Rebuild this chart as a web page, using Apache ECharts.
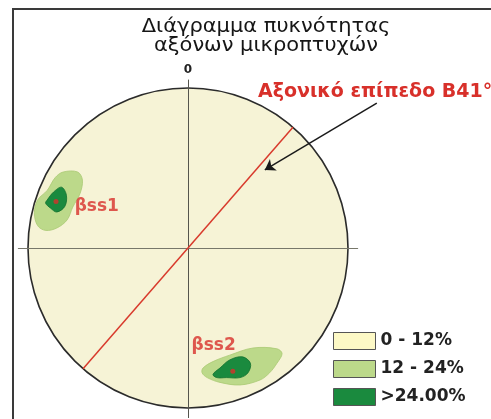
<!DOCTYPE html>
<html>
<head>
<meta charset="utf-8">
<script src="https://cdn.jsdelivr.net/npm/echarts@6/dist/echarts.min.js"></script>
<style>
  html, body { margin: 0; background: #fff; }
  #main { width: 491px; height: 419px; }
</style>
</head>
<body>
<div id="main"></div>
<script>
// stereonet points, in % of the primitive circle radius (x = east, y = north)
const levels = ['0 - 12%', '12 - 24%', '>24.00%'];
const levelColors = ['#fdf9c6', '#bcd98a', '#1a8a3e'];

// 12 - 24% contours (βss1, βss2)
const lowDensity = [
  [[-78, 47.5], [-69, 47.5], [-66, 42.5], [-67.5, 34], [-72, 25.6], [-75.6, 17.5], [-82, 12.5],
   [-89, 11], [-94, 14], [-96, 22], [-94, 30], [-88, 36], [-83, 44]],
  [[9.4, -75], [15.6, -71], [26, -67], [40.6, -62.5], [55.6, -63], [58.8, -66], [55.6, -72],
   [51, -78], [45, -82.5], [32.5, -85.6], [20, -84], [12, -81], [8.8, -78]]
];
// >24% contours
const highDensity = [
  [[-88, 30], [-84, 35], [-79, 38], [-76, 33], [-77, 26], [-82, 22.5], [-86, 25], [-89, 28]],
  [[15.6, -79], [20, -75], [26, -70], [34, -68], [39, -72], [37.5, -78], [32.5, -81], [24, -81], [18, -81]]
];
const maxima = [[-82.5, 29], [28, -77]];
const maximaNames = ['βss1', 'βss2'];
const maximaLabelPos = [[-57, 25.6], [16, -61]];
const axialPlane = [[-65.6, -75.5], [65.6, 75.5]];
const arrowLine = [[118, 90.6], [48, 48.8]];

const chart = echarts.init(document.getElementById('main'));

function contourSeries(name, polys, color, border) {
  return {
    name: name,
    type: 'custom',
    coordinateSystem: 'cartesian2d',
    data: polys.map((p, i) => [i, 0]),
    encode: { x: -1, y: -1 },
    z: 3,
    itemStyle: { color: color, borderColor: border, borderWidth: 0.8 },
    renderItem: function (params, api) {
      const pts = polys[params.dataIndex].map(p => api.coord(p));
      return {
        type: 'polygon',
        shape: { points: pts, smooth: 0.35 },
        style: { fill: color, stroke: border, lineWidth: 0.8 }
      };
    },
    silent: true
  };
}

const option = {
  animation: false,
  grid: { left: 18.4, top: 80, width: 339.2, height: 337.6 },
  xAxis: {
    type: 'value', min: -106, max: 106, z: 5,
    axisLine: { onZero: true, lineStyle: { color: '#77776a', width: 1.2 } },
    axisTick: { show: false }, axisLabel: { show: false }, splitLine: { show: false }
  },
  yAxis: {
    type: 'value', min: -106, max: 105, z: 5,
    name: '0', nameLocation: 'end', nameGap: 4,
    nameTextStyle: { fontFamily: 'DejaVu Sans', fontWeight: 'bold', fontSize: 12, color: '#222' },
    axisLine: { onZero: true, lineStyle: { color: '#55554d', width: 1 } },
    axisTick: { show: false }, axisLabel: { show: false }, splitLine: { show: false }
  },
  legend: {
    orient: 'vertical', left: 328, top: 327, padding: 5,
    itemWidth: 42, itemHeight: 17, itemGap: 10,
    icon: 'rect', selectedMode: false,
    textStyle: { fontFamily: 'DejaVu Sans', fontWeight: 'bold', fontSize: 17, color: '#222', lineHeight: 17 },
    data: levels.map((l, i) => ({
      name: l,
      itemStyle: { color: levelColors[i], borderColor: '#555', borderWidth: 1 }
    }))
  },
  series: [
    {
      name: levels[0],
      type: 'custom',
      coordinateSystem: 'cartesian2d',
      data: [[0, 0]],
      z: 2,
      itemStyle: { color: levelColors[0] },
      silent: true,
      renderItem: function (params, api) {
        const c = api.coord([0, 0]);
        const r = api.size([100, 0])[0];
        return {
          type: 'circle',
          shape: { cx: c[0], cy: c[1], r: r },
          style: { fill: '#f6f3d6', stroke: '#2b2b2b', lineWidth: 1.6 }
        };
      }
    },
    contourSeries(levels[1], lowDensity, levelColors[1], '#a9c973'),
    contourSeries(levels[2], highDensity, levelColors[2], '#11702f'),
    {
      type: 'line',
      data: axialPlane,
      symbol: 'none',
      z: 6,
      silent: true,
      lineStyle: { color: '#d83a2c', width: 1.5 }
    },
    {
      type: 'scatter',
      data: maxima,
      symbolSize: 5,
      z: 7,
      silent: true,
      itemStyle: { color: '#d8302a' }
    },
    {
      type: 'scatter',
      data: maximaLabelPos,
      symbolSize: 0,
      z: 7,
      silent: true,
      label: {
        show: true, position: 'inside',
        formatter: p => maximaNames[p.dataIndex],
        fontFamily: 'DejaVu Sans', fontWeight: 'bold', fontSize: 17, color: '#d8302a'
      }
    },
    {
      type: 'lines',
      coordinateSystem: 'cartesian2d',
      clip: false,
      z: 8,
      silent: true,
      symbol: ['none', 'arrow'],
      symbolSize: 10,
      lineStyle: { color: '#1a1a1a', width: 1.5, opacity: 1 },
      data: [{ coords: arrowLine }]
    }
  ],
  graphic: [
    {
      type: 'rect', z: 0, silent: true,
      shape: { x: 13, y: 9, width: 600, height: 600 },
      style: { fill: 'none', stroke: '#3a3a3a', lineWidth: 2 }
    },
    {
      type: 'text', x: 266, y: 27, silent: true, scaleX: 1.05,
      style: {
        text: 'Διάγραμμα πυκνότητας', textAlign: 'center', textVerticalAlign: 'middle',
        font: '20px "DejaVu Sans"', fill: '#161616'
      }
    },
    {
      type: 'text', x: 266, y: 46, silent: true, scaleX: 1.05,
      style: {
        text: 'αξόνων μικροπτυχών', textAlign: 'center', textVerticalAlign: 'middle',
        font: '20px "DejaVu Sans"', fill: '#161616'
      }
    },
    {
      type: 'text', x: 258, y: 92, silent: true,
      style: {
        text: 'Αξονικό επίπεδο Β41°', textAlign: 'left', textVerticalAlign: 'middle',
        font: 'bold 19px "DejaVu Sans"', fill: '#d8302a'
      }
    }
  ]
};

chart.setOption(option);
</script>
</body>
</html>
